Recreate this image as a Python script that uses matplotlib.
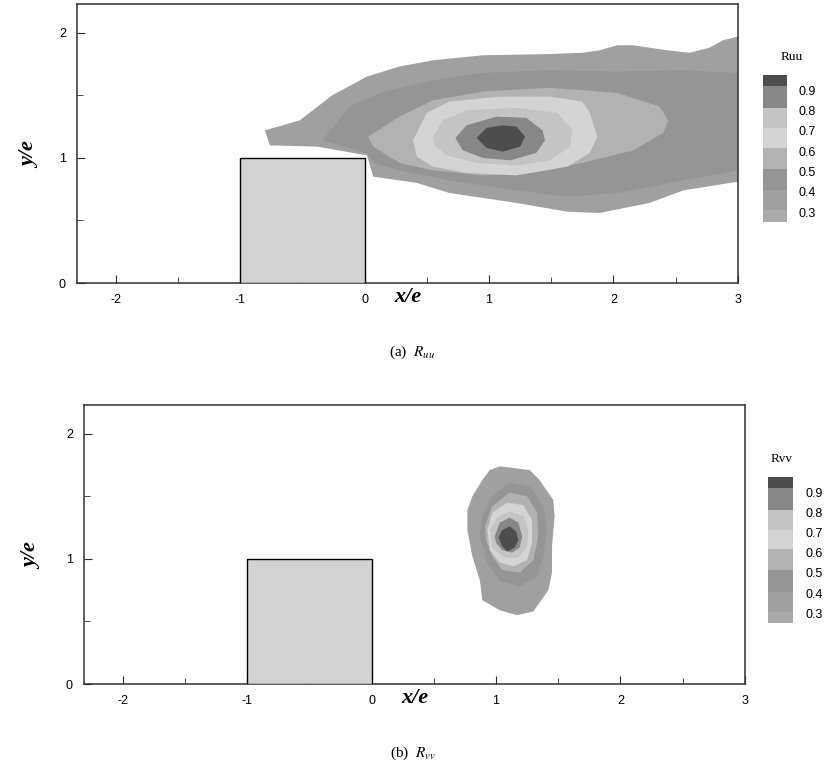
import matplotlib
matplotlib.use('Agg')
import matplotlib.pyplot as plt
from matplotlib.ticker import MultipleLocator

plt.rcParams['mathtext.fontset'] = 'stix'
plt.rcParams['axes.unicode_minus'] = False

# contour levels and the grey of each filled band (outer -> inner)
levels = [0.3, 0.4, 0.5, 0.6, 0.7, 0.8, 0.9]
band_colors = ['#a0a0a0', '#959595', '#b2b2b2', '#d4d4d4', '#c4c4c4', '#878787', '#4d4d4d']
legend_colors = ['#aaaaaa'] + band_colors
legend_edges = [0.259, 0.316, 0.415, 0.522, 0.624, 0.722, 0.821, 0.928, 0.982]

# Ruu iso-contours (x/e, y/e)
ruu_x = {
    0.3: [-0.80, -0.52, -0.26, 0.02, 0.28, 0.55, 0.95, 1.49, 1.75, 1.89, 2.03, 2.16, 2.43, 2.61,
          2.77, 2.88, 3.00, 3.00, 2.56, 2.29, 1.89, 1.63, 1.22, 0.68, 0.42, 0.07, 0.02, -0.38, -0.76],
    0.4: [-0.34, -0.12, 0.15, 0.55, 0.95, 1.49, 2.03, 2.56, 3.00, 3.00, 2.56, 2.03, 1.63, 1.22,
          0.68, 0.28, 0.07, 0.02],
    0.5: [0.03, 0.28, 0.55, 0.95, 1.49, 2.03, 2.37, 2.44, 2.40, 2.16, 1.75, 1.35, 0.95, 0.55, 0.28, 0.07],
    0.6: [0.39, 0.50, 0.68, 1.09, 1.49, 1.75, 1.81, 1.87, 1.81, 1.63, 1.22, 0.82, 0.55, 0.42],
    0.7: [0.55, 0.63, 0.82, 1.22, 1.55, 1.67, 1.65, 1.49, 1.22, 0.90, 0.66, 0.56],
    0.8: [0.73, 0.82, 1.06, 1.30, 1.43, 1.45, 1.38, 1.17, 0.95, 0.79],
    0.9: [0.90, 0.98, 1.11, 1.22, 1.29, 1.25, 1.11, 0.98],
}
ruu_y = {
    0.3: [1.22, 1.30, 1.50, 1.65, 1.73, 1.78, 1.82, 1.83, 1.84, 1.86, 1.90, 1.90, 1.86, 1.84,
          1.88, 1.94, 1.97, 0.81, 0.74, 0.64, 0.56, 0.57, 0.64, 0.72, 0.80, 0.85, 1.02, 1.09, 1.10],
    0.4: [1.14, 1.41, 1.53, 1.62, 1.68, 1.70, 1.69, 1.70, 1.68, 0.90, 0.82, 0.72, 0.69, 0.74,
          0.82, 0.90, 0.96, 1.04],
    0.5: [1.17, 1.33, 1.46, 1.53, 1.56, 1.52, 1.41, 1.30, 1.20, 1.06, 0.96, 0.88, 0.86, 0.90, 0.96, 1.09],
    0.6: [1.14, 1.36, 1.45, 1.49, 1.49, 1.45, 1.36, 1.17, 1.04, 0.93, 0.86, 0.88, 0.93, 1.01],
    0.7: [1.17, 1.30, 1.38, 1.40, 1.36, 1.22, 1.09, 0.98, 0.94, 0.96, 1.02, 1.10],
    0.8: [1.16, 1.26, 1.33, 1.32, 1.22, 1.14, 1.04, 0.98, 1.00, 1.06],
    0.9: [1.16, 1.24, 1.26, 1.25, 1.17, 1.09, 1.05, 1.08],
}

# Rvv iso-contours
rvv_x = {
    0.3: [1.03, 1.27, 1.35, 1.46, 1.47, 1.45, 1.45, 1.42, 1.30, 1.17, 1.03, 0.89, 0.87, 0.81,
          0.77, 0.77, 0.81, 0.89, 0.95],
    0.4: [0.97, 1.11, 1.27, 1.38, 1.41, 1.38, 1.33, 1.19, 1.03, 0.93, 0.87, 0.89],
    0.5: [0.91, 0.97, 1.11, 1.25, 1.33, 1.34, 1.30, 1.19, 1.05, 0.97, 0.92],
    0.6: [0.93, 0.97, 1.09, 1.22, 1.29, 1.29, 1.25, 1.14, 1.03, 0.95],
    0.7: [0.95, 1.01, 1.11, 1.22, 1.26, 1.25, 1.18, 1.07, 0.97],
    0.8: [0.99, 1.03, 1.11, 1.18, 1.21, 1.19, 1.13, 1.05, 1.00],
    0.9: [1.02, 1.05, 1.11, 1.16, 1.18, 1.15, 1.09, 1.05],
}
rvv_y = {
    0.3: [1.74, 1.71, 1.63, 1.47, 1.34, 1.10, 0.89, 0.75, 0.58, 0.55, 0.59, 0.67, 0.83, 1.02,
          1.23, 1.39, 1.50, 1.63, 1.71],
    0.4: [1.50, 1.61, 1.58, 1.42, 1.23, 1.02, 0.86, 0.78, 0.82, 0.97, 1.18, 1.34],
    0.5: [1.26, 1.42, 1.53, 1.50, 1.37, 1.18, 0.99, 0.89, 0.91, 1.02, 1.15],
    0.6: [1.23, 1.37, 1.45, 1.43, 1.31, 1.13, 0.99, 0.94, 0.97, 1.07],
    0.7: [1.23, 1.33, 1.38, 1.34, 1.23, 1.10, 1.01, 1.01, 1.09],
    0.8: [1.18, 1.29, 1.33, 1.29, 1.18, 1.09, 1.05, 1.07, 1.13],
    0.9: [1.17, 1.23, 1.26, 1.22, 1.15, 1.09, 1.06, 1.10],
}

# rib (obstacle) from x/e=-1 to 0, height 1
rib_x = [-1, 0]
rib_h = 1.0

x_ticks = [-2, -1, 0, 1, 2, 3]
y_ticks = [0, 1, 2]

fig = plt.figure(figsize=(8.25, 7.82), dpi=100)


def draw_panel(ax_rect, leg_rect, xs, ys, name, caption, cap_y, lab_x, title_x):
    ax = fig.add_axes(ax_rect)
    for lev, col in zip(levels, band_colors):
        ax.fill(xs[lev], ys[lev], color=col, lw=0)
    ax.bar(rib_x[0], rib_h, width=rib_x[1] - rib_x[0], align='edge',
           color='#d3d3d3', edgecolor='black', lw=1, zorder=3)
    ax.set_xlim(-2.31, 3)
    ax.set_ylim(0, 2.23)
    ax.set_xticks(x_ticks)
    ax.set_yticks(y_ticks)
    ax.xaxis.set_minor_locator(MultipleLocator(0.5))
    ax.yaxis.set_minor_locator(MultipleLocator(0.5))
    ax.tick_params(which='both', direction='in', top=False, right=False,
                   color='#303030', labelsize=9)
    ax.tick_params(which='major', length=6, pad=8)
    ax.tick_params(which='minor', length=4)
    for lab in ax.get_xticklabels() + ax.get_yticklabels():
        lab.set_family('Liberation Sans')
    for s in ax.spines.values():
        s.set_color('#303030')
        s.set_linewidth(1.1)
    ax.set_xlabel('x/e', fontsize=16, family='Liberation Serif', style='italic', weight='bold')
    ax.set_ylabel('y/e', fontsize=16, family='Liberation Serif', style='italic', weight='bold')
    ax.xaxis.set_label_coords(0.5, -0.05)
    ax.xaxis.label.set_va('center')
    ax.yaxis.set_label_coords(lab_x, 0.46)
    ax.yaxis.label.set_va('center')

    # legend
    lg = fig.add_axes(leg_rect)
    lg.bar(0, [b - a for a, b in zip(legend_edges[:-1], legend_edges[1:])],
           bottom=legend_edges[:-1], width=1, align='edge', color=legend_colors, lw=0)
    lg.set_xlim(0, 1)
    lg.set_ylim(legend_edges[0], legend_edges[-1])
    lg.axis('off')
    for lev in levels:
        lg.text(1.5, lev, f'{lev:.1f}', va='center', ha='left', fontsize=9,
                family='Liberation Sans', clip_on=False)
    lg.text(title_x, 1.0 + 18 / 147, name, va='center', ha='left', fontsize=9.5,
            family='Liberation Serif', transform=lg.transAxes, clip_on=False)

    fig.text(0.5, cap_y, caption, ha='center', va='center', fontsize=11,
             family='Liberation Serif')


draw_panel([0.0933, 0.6381, 0.8012, 0.3568], [0.9248, 0.7161, 0.0291, 0.188],
           ruu_x, ruu_y, 'Ruu', r'(a)  $R_{uu}$', 0.5499, -0.071, 0.75)
draw_panel([0.1018, 0.1253, 0.8012, 0.3568], [0.9309, 0.2033, 0.0303, 0.1867],
           rvv_x, rvv_y, 'Rvv', r'(b)  $R_{vv}$', 0.0371, -0.079, 0.1)

fig.savefig('out.png', dpi=100, facecolor='white')
